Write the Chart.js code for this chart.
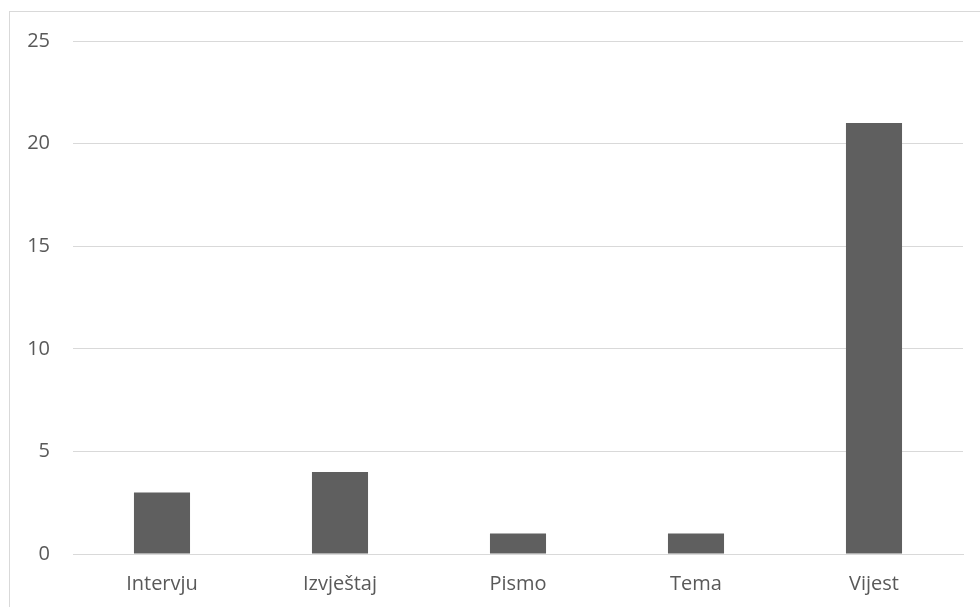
<!DOCTYPE html>
<html>
<head>
<meta charset="utf-8">
<script src="https://cdn.jsdelivr.net/npm/chart.js@4"></script>
<style>
  html, body { margin: 0; padding: 0; background: #fff; }
  #wrap { position: relative; width: 980px; height: 607px; overflow: hidden; }
  #frame { position: absolute; left: 9px; top: 11px; right: -5px; bottom: -5px; border: 1px solid #d9d9d9; }
  canvas { position: absolute; left: 0; top: 0; }
</style>
</head>
<body>
<div id="wrap">
  <div id="frame"></div>
  <canvas id="grafico" width="980" height="607"></canvas>
</div>
<script>
// Podaci
const kategorije = ['Intervju', 'Izvještaj', 'Pismo', 'Tema', 'Vijest'];
const vrijednosti = [3, 4, 1, 1, 21];
const yTicks = [0, 5, 10, 15, 20, 25];

const boja = '#5f5f5f';
const tekst = '#595959';
const mreza = '#d9d9d9';
const font = { family: '"Open Sans", sans-serif', size: 20 };

new Chart(document.getElementById('grafico'), {
    type: 'bar',
    data: {
        labels: kategorije,
        datasets: [{
            data: vrijednosti,
            backgroundColor: boja,
            borderWidth: 0,
            barPercentage: 0.315,
            categoryPercentage: 1
        }]
    },
    options: {
        responsive: false,
        animation: false,
        layout: { padding: { top: 41, right: 17, left: 0, bottom: 0 } },
        plugins: { legend: { display: false }, tooltip: { enabled: false } },
        scales: {
            x: {
                grid: { display: false, drawTicks: false },
                border: { display: true, color: mreza, width: 1 },
                ticks: { color: tekst, font: font, padding: 18, maxRotation: 0 },
                afterFit: s => { s.height = 53; }
            },
            y: {
                min: yTicks[0],
                max: yTicks[yTicks.length - 1],
                afterBuildTicks: s => { s.ticks = yTicks.map(v => ({ value: v })); },
                grid: { color: mreza, lineWidth: 1, drawTicks: false },
                border: { display: false },
                ticks: { color: tekst, font: font, padding: 23 },
                afterFit: s => { s.width = 73; }
            }
        }
    }
});
</script>
</body>
</html>
